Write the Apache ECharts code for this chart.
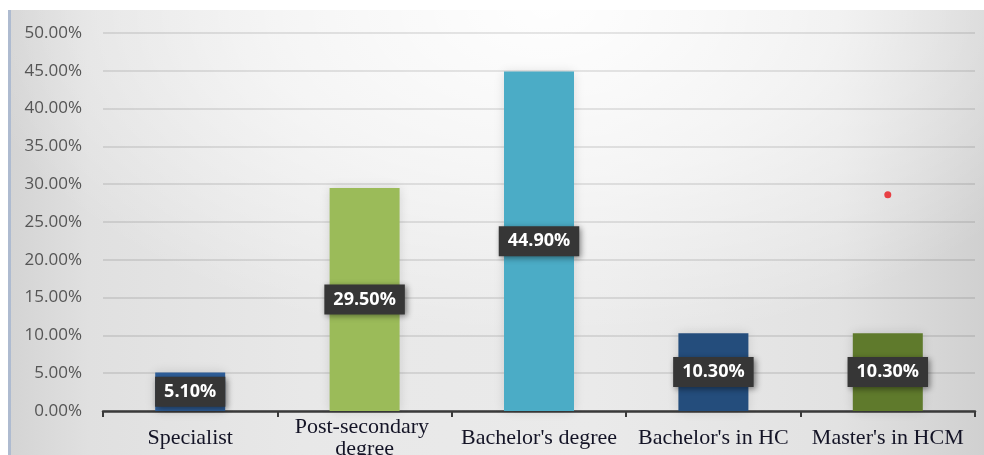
<!DOCTYPE html>
<html>
<head>
<meta charset="utf-8">
<script src="https://cdn.jsdelivr.net/npm/echarts@6/dist/echarts.min.js"></script>
<style>
  html, body { margin: 0; padding: 0; background: #ffffff; }
  #backdrop {
    position: absolute; left: 8px; top: 10px; width: 976px; height: 445px;
    background:
      radial-gradient(ellipse 75% 95% at 55% 0%, rgba(255,255,255,0.95) 0%, rgba(255,255,255,0.55) 40%, rgba(255,255,255,0) 80%),
      linear-gradient(90deg, #d4d4d4 0%, #e0e0e0 8%, #e8e8e8 30%, #eaeaea 60%, #e2e2e2 85%, #d0d0d0 100%);
    border-left: 3px solid #aebbd0;
    box-sizing: border-box;
  }
  #chart { position: absolute; left: 0; top: 0; width: 984px; height: 455px; }
</style>
</head>
<body>
<div id="backdrop"></div>
<div id="chart"></div>
<script>
// Education level shares (percent)
const categories = ['Specialist', 'Post-secondary degree', "Bachelor's degree", "Bachelor's in HC", "Master's in HCM"];
const shares = [5.10, 29.50, 44.90, 10.30, 10.30];
const barColors = ['#2f5f9a', '#9bbb59', '#4bacc6', '#244d7c', '#5f7a2c'];
const yTicks = { min: 0, max: 50, interval: 5 };
// stray marker on the plot
const markerPoints = [["Master's in HCM", 28.6]];

const chart = echarts.init(document.getElementById('chart'), null, { renderer: 'canvas' });

chart.setOption({
  backgroundColor: 'transparent',
  animation: false,
  grid: { left: 103, right: 9, top: 33, bottom: 44, containLabel: false, outerBoundsMode: 'none' },
  xAxis: {
    type: 'category',
    data: categories,
    axisLine: { lineStyle: { color: '#3a3a3a', width: 2.5 } },
    axisTick: { show: true, alignWithLabel: false, length: 6, lineStyle: { color: '#3a3a3a', width: 2 } },
    axisLabel: {
      interval: 0,
      margin: 27,
      verticalAlign: 'middle',
      width: 172,
      overflow: 'break',
      lineHeight: 22,
      fontFamily: '"Liberation Serif", "DejaVu Serif", serif',
      fontSize: 22,
      color: '#141426'
    }
  },
  yAxis: {
    type: 'value',
    min: yTicks.min,
    max: yTicks.max,
    interval: yTicks.interval,
    axisLine: { show: false },
    axisTick: { show: false },
    splitLine: { lineStyle: { color: 'rgba(0,0,0,0.13)', width: 1.5 } },
    axisLabel: {
      margin: 21,
      fontFamily: '"Open Sans", "Noto Sans", sans-serif',
      fontSize: 17,
      color: '#555555',
      formatter: v => v.toFixed(2) + '%'
    }
  },
  series: [
    {
      type: 'bar',
      barWidth: 70,
      data: shares.map((v, i) => ({ value: v, itemStyle: { color: barColors[i] } })),
      itemStyle: { shadowColor: 'rgba(0,0,0,0.12)', shadowBlur: 10 },
      label: {
        show: true,
        position: 'inside',
        formatter: p => p.value.toFixed(2) + '%',
        fontFamily: '"Open Sans", "Noto Sans", sans-serif',
        fontWeight: 'bold',
        fontSize: 18,
        color: '#ffffff',
        backgroundColor: '#363636',
        padding: [7, 9, 5, 9],
        shadowColor: 'rgba(0,0,0,0.45)',
        shadowBlur: 6,
        shadowOffsetX: 2,
        shadowOffsetY: 2
      },
      z: 3
    },
    {
      type: 'scatter',
      data: markerPoints,
      symbolSize: 7,
      itemStyle: { color: '#e8161b' },
      z: 4
    }
  ]
});
</script>
</body>
</html>
